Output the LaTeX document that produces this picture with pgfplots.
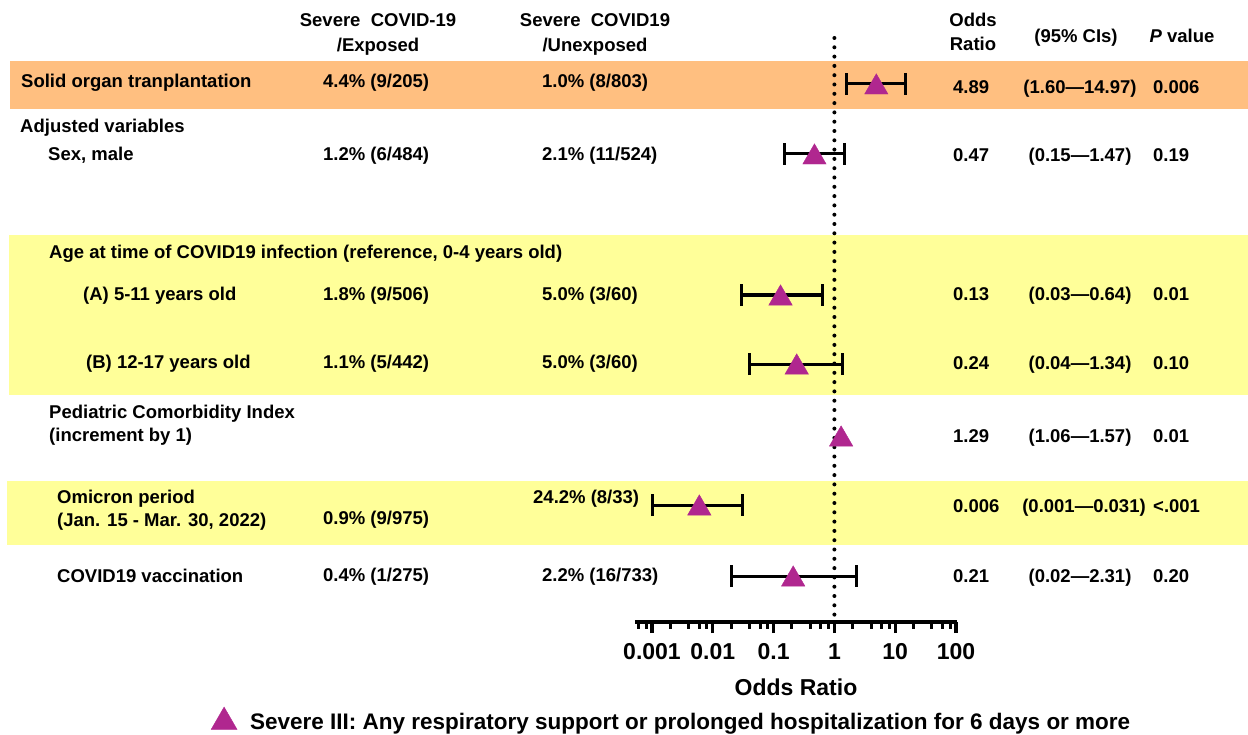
\documentclass[border=0pt]{standalone}
\usepackage{fontspec}
\setmainfont{Liberation Sans}
\usepackage{pgfplots}
\pgfplotsset{compat=1.18}
\usepackage{pgfplotstable}
\definecolor{bandorange}{HTML}{FFBF80}
\definecolor{bandyellow}{HTML}{FFFF99}
\definecolor{tri}{HTML}{B0278F}

\pgfplotstableread{
or    ep     em     y
4.89  10.08  3.29   -84
0.47  1.00   0.32   -154
0.13  0.51   0.10   -295
0.24  1.10   0.20   -364
0.006 0.025  0.005  -505
0.21  2.10   0.19   -576
}\ordata
\pgfplotstableread{
or    y
1.29  -436
}\pcidata

\newcommand{\tf}{\fontsize{18.5}{22}\selectfont\bfseries}
\begin{document}
\begin{tikzpicture}[x=1pt,y=1pt]
\path (0,0) rectangle (1248,-735);
\fill[bandorange] (10,-61) rectangle (1248,-109);
\fill[bandyellow] (9,-235) rectangle (1248,-395);
\fill[bandyellow] (7,-481) rectangle (1248,-545);
\begin{axis}[
  at={(635pt,-622pt)}, anchor=south west,
  scale only axis, width=322pt, height=592pt,
  xmode=log, xmin=5.25e-4, xmax=103.9, ymin=-622, ymax=-30,
  axis x line*=bottom, axis y line=none,
  axis line style={line width=3.5pt},
  xtick={0.001,0.01,0.1,1,10,100},
  xticklabels={0.001,0.01,0.1,1,10,100},
  minor xtick={0.0006,0.0008,0.002,0.004,0.006,0.008,0.02,0.04,0.06,0.08,0.2,0.4,0.6,0.8,2,4,6,8,20,40,60,80},
  tick align=outside,
  major tick length=11pt, minor tick length=6.5pt,
  major tick style={line width=3.2pt, black},
  minor tick style={line width=3pt, black},
  /pgf/number format/assume math mode=true,
  xticklabel style={font=\fontsize{23}{26}\selectfont\bfseries, yshift=-7pt},
  xlabel={Odds Ratio},
  xlabel style={font=\fontsize{23}{26}\selectfont\bfseries, yshift=-12pt},
  clip=false,
  legend style={at={(axis description cs:-1.317,-0.1655)}, anchor=west, draw=none, fill=none,
    font=\fontsize{22.5}{26}\selectfont\bfseries, inner sep=0pt},
]
\draw[line width=4pt, dash pattern=on 0pt off 9.3pt, line cap=round] (axis cs:1,-38) -- (axis cs:1,-616);
\addplot[only marks, mark=triangle*, mark size=13.5pt, color=tri,
  mark options={yshift=-3.3pt}, forget plot,
  error bars/.cd, x dir=both, x explicit,
  error bar style={line width=3pt, black},
  error mark options={rotate=90, mark size=11pt, line width=3pt, black}]
  table[x=or, y=y, x error plus=ep, x error minus=em] {\ordata};
\addplot[only marks, mark=triangle*, mark size=13.5pt, color=tri,
  mark options={yshift=-3.3pt}, forget plot]
  table[x=or, y=y] {\pcidata};
\addlegendimage{only marks, mark=triangle*, mark size=15pt, color=tri}
\addlegendentry{\hspace*{11pt}Severe III: Any respiratory support or prolonged hospitalization for 6 days or more}
\end{axis}
\begin{scope}[every node/.style={font=\tf, inner sep=0pt}]
% headers
\node[anchor=base] at (378,-27) {Severe\ \ COVID-19};
\node[anchor=base] at (378,-52) {/Exposed};
\node[anchor=base] at (595,-27) {Severe\ \ COVID19};
\node[anchor=base] at (595,-52) {/Unexposed};
\node[anchor=base] at (973,-27) {Odds};
\node[anchor=base] at (973,-51) {Ratio};
\node[anchor=base] at (1076,-43) {(95\% CIs)};
\node[anchor=base] at (1182,-43) {\textit{P} value};
% rows
\node[anchor=base west] at (21,-88) {Solid organ tranplantation};
\node[anchor=base west] at (323,-88) {4.4\% (9/205)};
\node[anchor=base west] at (542,-88) {1.0\% (8/803)};
\node[anchor=base west] at (953,-94) {4.89};
\node[anchor=base] at (1080,-94) {(1.60—14.97)};
\node[anchor=base west] at (1153,-94) {0.006};

\node[anchor=base west] at (20,-133) {Adjusted variables};

\node[anchor=base west] at (48,-161) {Sex, male};
\node[anchor=base west] at (323,-161) {1.2\% (6/484)};
\node[anchor=base west] at (542,-161) {2.1\% (11/524)};
\node[anchor=base west] at (953,-162) {0.47};
\node[anchor=base] at (1080,-162) {(0.15—1.47)};
\node[anchor=base west] at (1153,-162) {0.19};

\node[anchor=base west] at (49,-259) {Age at time of COVID19 infection (reference, 0-4 years old)};

\node[anchor=base west] at (83,-301) {(A) 5-11 years old};
\node[anchor=base west] at (323,-301) {1.8\% (9/506)};
\node[anchor=base west] at (542,-301) {5.0\% (3/60)};
\node[anchor=base west] at (953,-301) {0.13};
\node[anchor=base] at (1080,-301) {(0.03—0.64)};
\node[anchor=base west] at (1153,-301) {0.01};

\node[anchor=base west] at (86,-368) {(B) 12-17 years old};
\node[anchor=base west] at (323,-368) {1.1\% (5/442)};
\node[anchor=base west] at (542,-368) {5.0\% (3/60)};
\node[anchor=base west] at (953,-370) {0.24};
\node[anchor=base] at (1080,-370) {(0.04—1.34)};
\node[anchor=base west] at (1153,-370) {0.10};

\node[anchor=base west] at (49,-418) {Pediatric Comorbidity Index};
\node[anchor=base west] at (49,-441) {(increment by 1)};
\node[anchor=base west] at (953,-442) {1.29};
\node[anchor=base] at (1080,-442) {(1.06—1.57)};
\node[anchor=base west] at (1153,-442) {0.01};

\node[anchor=base west] at (57,-503) {Omicron period};
\node[anchor=base west] at (57,-526) {(Jan. 15 - Mar. 30, 2022)};
\node[anchor=base west] at (323,-524) {0.9\% (9/975)};
\node[anchor=base west] at (533,-503) {24.2\% (8/33)};
\node[anchor=base west] at (953,-512) {0.006};
\node[anchor=base] at (1084,-512) {(0.001—0.031)};
\node[anchor=base west] at (1153,-512) {<.001};

\node[anchor=base west] at (57,-582) {COVID19 vaccination};
\node[anchor=base west] at (323,-581) {0.4\% (1/275)};
\node[anchor=base west] at (542,-581) {2.2\% (16/733)};
\node[anchor=base west] at (953,-582) {0.21};
\node[anchor=base] at (1080,-582) {(0.02—2.31)};
\node[anchor=base west] at (1153,-582) {0.20};
\end{scope}
\end{tikzpicture}
\end{document}
